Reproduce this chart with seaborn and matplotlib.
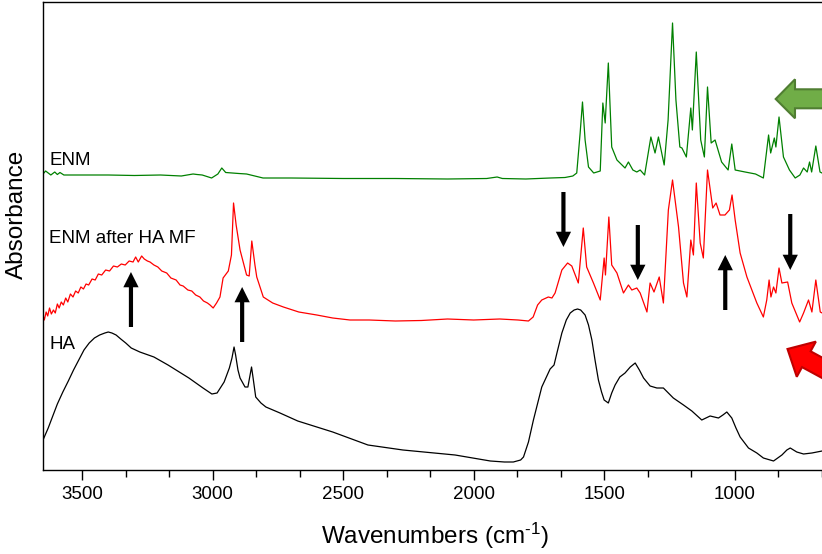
import numpy as np
import pandas as pd
import matplotlib
matplotlib.use("Agg")
import matplotlib.pyplot as plt
from matplotlib.patches import Polygon
from matplotlib.ticker import MultipleLocator
import seaborn as sns

# ---- spectra (wavenumber, absorbance a.u., already offset) ----
enm_wn = [3650, 3640, 3630, 3620, 3605, 3595, 3585, 3570, 3500, 3400,
          3300, 3200, 3120, 3075, 3060, 3040, 3004, 2980, 2965, 2950,
          2900, 2870, 2807, 2700, 2500, 2300, 2100, 1950, 1910, 1890,
          1800, 1707, 1650, 1620, 1605, 1592, 1583, 1573, 1560, 1540,
          1515, 1505, 1496, 1484, 1471, 1451, 1420, 1407, 1390, 1375,
          1362, 1345, 1321, 1305, 1292, 1270, 1255, 1238, 1225, 1210,
          1202, 1185, 1168, 1162, 1147, 1130, 1116, 1104, 1090, 1075,
          1050, 1025, 1011, 998, 960, 920, 890, 870, 862, 848,
          842, 830, 813, 790, 768, 750, 736, 722, 713, 705,
          689, 673, 650]
enm_abs = [2.96, 2.99, 2.97, 2.95, 2.98, 2.955, 2.975, 2.95, 2.95, 2.95,
           2.945, 2.95, 2.94, 2.96, 2.955, 2.95, 2.92, 2.96, 3.02, 2.975,
           2.965, 2.96, 2.92, 2.92, 2.915, 2.915, 2.91, 2.915, 2.93, 2.915,
           2.91, 2.92, 2.925, 2.94, 2.97, 3.37, 3.68, 3.30, 3.03, 2.97,
           2.99, 3.67, 3.47, 4.07, 3.23, 3.10, 3.02, 3.08, 3.00, 2.98,
           3.00, 2.95, 3.33, 3.17, 3.33, 3.05, 3.50, 4.47, 3.70, 3.23,
           3.22, 3.13, 3.62, 3.40, 4.18, 3.30, 3.13, 3.83, 3.27, 3.30,
           3.08, 3.00, 3.26, 3.00, 2.98, 2.96, 2.92, 3.35, 3.17, 3.32,
           3.23, 3.53, 3.13, 3.00, 2.92, 2.95, 3.02, 2.98, 3.08, 2.98,
           3.24, 2.98, 2.95]

mf_wn = [3650, 3645, 3638, 3632, 3625, 3618, 3610, 3603, 3595, 3588,
         3580, 3572, 3563, 3555, 3545, 3535, 3525, 3515, 3505, 3495,
         3485, 3475, 3462, 3450, 3438, 3425, 3410, 3395, 3380, 3365,
         3350, 3335, 3320, 3305, 3295, 3285, 3272, 3262, 3250, 3240,
         3225, 3210, 3195, 3176, 3160, 3140, 3125, 3113, 3095, 3080,
         3065, 3049, 3035, 3020, 3010, 2998, 2985, 2972, 2960, 2940,
         2928, 2920, 2910, 2895, 2870, 2860, 2850, 2838, 2831, 2806,
         2770, 2729, 2670, 2601, 2540, 2474, 2400, 2300, 2200, 2100,
         2000, 1900, 1830, 1790, 1772, 1755, 1739, 1714, 1700, 1688,
         1662, 1640, 1624, 1599, 1580, 1567, 1541, 1515, 1500, 1495,
         1482, 1471, 1451, 1426, 1407, 1394, 1375, 1362, 1336, 1324,
         1309, 1289, 1273, 1254, 1238, 1215, 1196, 1183, 1168, 1158,
         1147, 1132, 1120, 1104, 1084, 1071, 1056, 1037, 1020, 1010,
         998, 979, 953, 915, 890, 877, 868, 861, 851, 842,
         830, 819, 797, 781, 751, 736, 717, 704, 689, 672,
         650]
mf_abs = [1.55, 1.50, 1.58, 1.54, 1.62, 1.56, 1.60, 1.57, 1.66, 1.62,
          1.68, 1.65, 1.72, 1.68, 1.76, 1.73, 1.79, 1.77, 1.83, 1.81,
          1.86, 1.85, 1.91, 1.90, 1.96, 1.95, 2.00, 1.99, 2.04, 2.03,
          2.06, 2.05, 2.09, 2.08, 2.13, 2.08, 2.14, 2.11, 2.09, 2.08,
          2.05, 2.03, 1.99, 1.97, 1.92, 1.90, 1.85, 1.84, 1.80, 1.79,
          1.75, 1.73, 1.69, 1.67, 1.65, 1.62, 1.67, 1.73, 1.92, 1.99,
          2.15, 2.67, 2.45, 2.20, 1.95, 1.94, 2.29, 2.05, 1.93, 1.73,
          1.67, 1.63, 1.58, 1.55, 1.52, 1.50, 1.50, 1.49, 1.495, 1.51,
          1.50, 1.51, 1.50, 1.49, 1.53, 1.65, 1.70, 1.73, 1.72, 1.77,
          2.00, 2.07, 2.04, 1.87, 2.42, 2.03, 1.87, 1.70, 2.12, 1.95,
          2.53, 2.05, 1.97, 1.77, 1.85, 1.80, 1.82, 1.77, 1.58, 1.87,
          1.78, 1.93, 1.67, 2.60, 2.90, 2.43, 1.87, 1.73, 2.30, 2.15,
          2.87, 2.27, 2.12, 3.00, 2.62, 2.67, 2.55, 2.55, 2.60, 2.75,
          2.50, 2.17, 1.93, 1.67, 1.53, 1.70, 1.90, 1.73, 1.83, 1.77,
          2.02, 1.87, 1.88, 1.67, 1.48, 1.57, 1.70, 1.58, 1.90, 1.58,
          1.55]

ha_wn = [3650, 3630, 3614, 3595, 3574, 3553, 3533, 3513, 3493, 3473,
         3453, 3433, 3413, 3400, 3386, 3370, 3352, 3333, 3312, 3279,
         3225, 3171, 3091, 3037, 3003, 2983, 2956, 2936, 2926, 2918,
         2912, 2903, 2895, 2876, 2865, 2858, 2851, 2845, 2835, 2815,
         2796, 2742, 2674, 2540, 2405, 2271, 2071, 1936, 1882, 1860,
         1848, 1820, 1809, 1790, 1771, 1739, 1707, 1692, 1680, 1662,
         1645, 1630, 1615, 1602, 1590, 1573, 1560, 1547, 1535, 1522,
         1510, 1500, 1484, 1471, 1458, 1440, 1420, 1400, 1381, 1365,
         1349, 1324, 1298, 1273, 1235, 1196, 1164, 1126, 1110, 1094,
         1062, 1045, 1030, 1011, 995, 979, 947, 915, 890, 851,
         819, 800, 787, 762, 736, 704, 665, 650]
ha_abs = [0.30, 0.42, 0.53, 0.66, 0.78, 0.89, 1.00, 1.10, 1.20, 1.27,
          1.32, 1.35, 1.37, 1.38, 1.37, 1.35, 1.31, 1.27, 1.22, 1.18,
          1.13, 1.05, 0.92, 0.82, 0.76, 0.77, 0.88, 1.02, 1.12, 1.23,
          1.15, 1.00, 0.92, 0.83, 0.83, 0.93, 1.03, 0.92, 0.73, 0.67,
          0.63, 0.57, 0.49, 0.38, 0.25, 0.20, 0.15, 0.09, 0.08, 0.08,
          0.08, 0.10, 0.13, 0.28, 0.50, 0.83, 1.01, 1.05, 1.18, 1.37,
          1.50, 1.57, 1.60, 1.61, 1.60, 1.55, 1.45, 1.30, 1.10, 0.90,
          0.78, 0.70, 0.67, 0.77, 0.85, 0.93, 0.97, 1.03, 1.07, 1.00,
          0.92, 0.84, 0.82, 0.82, 0.72, 0.65, 0.59, 0.50, 0.52, 0.54,
          0.52, 0.55, 0.58, 0.52, 0.42, 0.33, 0.22, 0.17, 0.12, 0.09,
          0.15, 0.20, 0.22, 0.18, 0.16, 0.17, 0.19, 0.20]

series_names = ["ENM", "ENM after HA MF", "HA"]
series_colors = ["#008000", "#ff0000", "#000000"]
label_y = [3.05, 2.267, 1.207]

# arrows: (wavenumber, tail absorbance, tip absorbance)
arrows = [(3313, 1.43, 1.98), (2887, 1.28, 1.83), (1656, 2.78, 2.23),
          (1371, 2.45, 1.90), (1036, 1.60, 2.15), (787, 2.56, 2.00)]

df = pd.concat([
    pd.DataFrame({"wn": enm_wn, "abs": enm_abs, "sample": "ENM"}),
    pd.DataFrame({"wn": mf_wn, "abs": mf_abs, "sample": "ENM after HA MF"}),
    pd.DataFrame({"wn": ha_wn, "abs": ha_abs, "sample": "HA"}),
])

sns.set_theme(style="white")
plt.rcParams["font.family"] = ["Liberation Sans", "DejaVu Sans"]
plt.rcParams["mathtext.fontset"] = "custom"
plt.rcParams["mathtext.rm"] = "Liberation Sans"
plt.rcParams["mathtext.it"] = "Liberation Sans:italic"
plt.rcParams["text.color"] = "black"
plt.rcParams["axes.labelcolor"] = "black"
plt.rcParams["xtick.color"] = "black"
plt.rcParams["xtick.labelcolor"] = "black"

W, H = 822, 554
fig = plt.figure(figsize=(W / 100, H / 100), dpi=100)
ax = fig.add_axes([43 / W, (H - 470) / H, (826 - 43) / W, 468 / H])

for name, col in zip(series_names, series_colors):
    sns.lineplot(data=df[df["sample"] == name], x="wn", y="abs", color=col,
                 lw=0.9, sort=False, estimator=None, ax=ax)

for name, yy in zip(series_names, label_y):
    ax.text(3626, yy, name, fontsize=13.5, ha="left", va="baseline", color="black")

for wn, y0, y1 in arrows:
    ax.annotate("", xy=(wn, y1), xytext=(wn, y0),
                arrowprops=dict(arrowstyle="simple,head_width=11,head_length=11,tail_width=3",
                                mutation_scale=1, color="black", shrinkA=0, shrinkB=0, lw=0))

ax.set_xlim(3650, 650)
ax.set_ylim(0, 4.68)
ax.set_yticks([])
ax.xaxis.set_major_locator(MultipleLocator(500))
ax.xaxis.set_minor_locator(MultipleLocator(500 / 3))
ax.tick_params(axis="x", which="major", direction="out", length=7.2, width=1.0,
               labelsize=13.5, pad=4, bottom=True, color="black", labelcolor="black")
ax.tick_params(axis="x", which="minor", direction="out", length=4.8, width=1.0,
               bottom=True, color="black")
for s in ax.spines.values():
    s.set_linewidth(1.0)
    s.set_color("black")

ax.set_xlabel(r"Wavenumbers (cm$^{\text{-}1}$)", fontsize=17.5, labelpad=13, color="black")
ax.set_ylabel("Absorbance", fontsize=17.5, color="black")
ax.yaxis.label.set_va("center")
ax.yaxis.set_label_coords((17 - 43) / 783, (470 - 214) / 468)


def fig_pts(pts):
    return [(x / W, 1 - y / H) for x, y in pts]


# green block arrow pointing left
green = [(775.7, 99), (795, 79.3), (795, 89.3), (840, 89.3),
         (840, 108.3), (795, 108.3), (795, 118.3)]
fig.add_artist(Polygon(fig_pts(green), closed=True, transform=fig.transFigure,
                       facecolor="#70ad47", edgecolor="#507e32", lw=1.5))

# red block arrow pointing up-left
tip = np.array([787.5, 349.0])
d = np.array([0.879, 0.477])
n = np.array([-0.477, 0.879])
base = tip + 21.4 * d
red = [tip, base + 20 * n, base + 9 * n, base + 9 * n + 80 * d,
       base - 9 * n + 80 * d, base - 9 * n, base - 20 * n]
fig.add_artist(Polygon(fig_pts(red), closed=True, transform=fig.transFigure,
                       facecolor="#ff0000", edgecolor="#c00000", lw=1.5))

fig.savefig("out.png", dpi=100)
